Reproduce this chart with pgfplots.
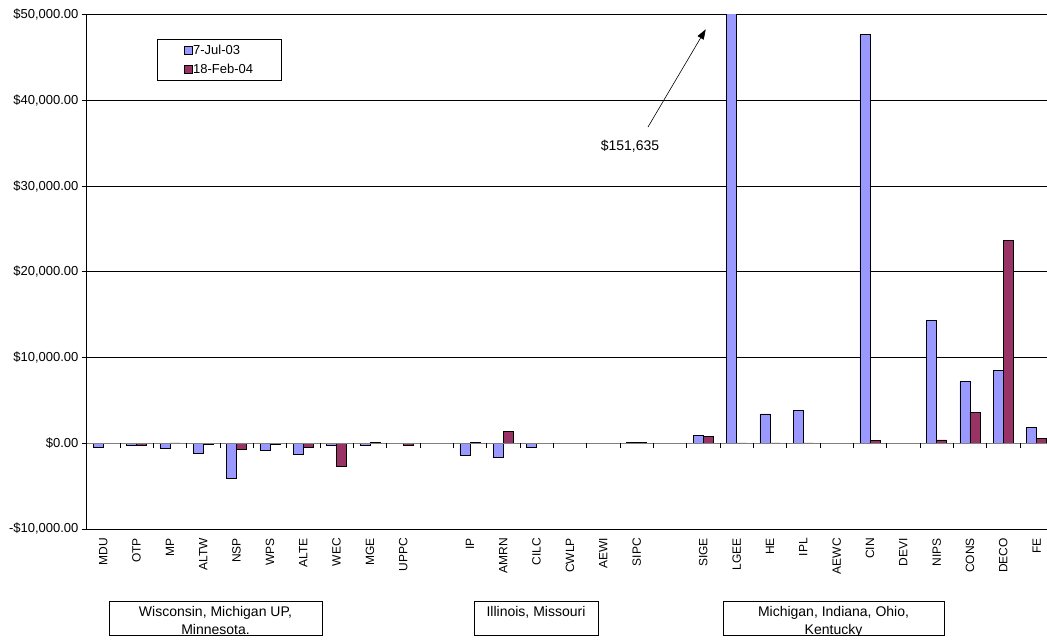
\documentclass[border=0pt]{standalone}
\usepackage{fontspec}
\setmainfont{Liberation Sans}
\usepackage{pgfplots}
\pgfplotsset{compat=1.18}
\usetikzlibrary{arrows.meta}
\definecolor{julblue}{HTML}{9999FF}
\definecolor{febplum}{HTML}{993366}
\definecolor{axisgray}{HTML}{808080}

\begin{document}
\begin{tikzpicture}[x=1pt,y=1pt]
\useasboundingbox (0,0) rectangle (1047,641);
\begin{axis}[
  at={(86.6pt,112.1pt)}, anchor=south west,
  scale only axis, width=966.7pt, height=514.2pt,
  xmin=-0.5, xmax=28.5, ymin=-10000, ymax=50000,
  axis lines*=left,
  axis line style={black, line width=0.8pt},
  ytick={-10000,0,...,50000},
  yticklabels={{-\$10,000.00}, {\$0.00}, {\$10,000.00}, {\$20,000.00}, {\$30,000.00}, {\$40,000.00}, {\$50,000.00}},
  ymajorgrids, major grid style={black, line width=0.8pt},
  tick align=outside, major tick length=5pt,
  ytick style={black, line width=0.8pt},
  xtick style={draw=none},
  xtick={0,1,2,3,4,5,6,7,8,9,11,12,13,14,15,16,18,19,20,21,22,23,24,25,26,27,28},
  xticklabels={MDU,OTP,MP,ALTW,NSP,WPS,ALTE,WEC,MGE,UPPC,IP,AMRN,CILC,CWLP,AEWI,SIPC,SIGE,LGEE,HE,IPL,AEWC,CIN,DEVI,NIPS,CONS,DECO,FE},
  % shifts act in the rotated frame: xshift moves the label down the page
  xticklabel style={rotate=90, anchor=east, inner sep=0pt, xshift=-4pt, font=\fontsize{12}{14}\selectfont},
  yticklabel style={inner sep=0pt, xshift=-3pt, font=\fontsize{13}{15}\selectfont},
  legend style={at={(0.0728,0.9527)}, anchor=north west, draw=black, line width=0.8pt,
    fill=white, font=\fontsize{13}{15}\selectfont, inner xsep=27pt, inner ysep=4.5pt,
    row sep=6pt, nodes={inner sep=1pt}},
  legend cell align=left,
]
% 7 July 2003
\addplot[ybar, bar width=0.3, bar shift=-0.15, fill=julblue, draw=black, line width=0.7pt,
  legend image code/.code={\draw[fill=julblue,draw=black,line width=0.6pt] (0pt,-3.6pt) rectangle (7.2pt,3.6pt);}]
  coordinates {
  (0,-470) (1,-230) (2,-620) (3,-1130) (4,-4080) (5,-780) (6,-1280) (7,-270) (8,-270)
  (11,-1400) (12,-1630) (13,-470) (14,-60) (16,80)
  (18,930) (19,151635) (20,3420) (21,3850) (23,47670) (25,14290) (26,7170) (27,8530) (28,1820)
  };
\addlegendentry{7-Jul-03}
% 18 February 2004
\addplot[ybar, bar width=0.3, bar shift=0.15, fill=febplum, draw=black, line width=0.7pt,
  legend image code/.code={\draw[fill=febplum,draw=black,line width=0.6pt] (0pt,-3.6pt) rectangle (7.2pt,3.6pt);}]
  coordinates {
  (0,-40) (1,-270) (2,30) (3,-150) (4,-700) (5,-150) (6,-470) (7,-2720) (8,50) (9,-230)
  (11,50) (12,1400) (14,-60) (16,80)
  (18,820) (19,40) (20,40) (21,40) (23,310) (25,390) (26,3610) (27,23710) (28,540)
  };
\addlegendentry{18-Feb-04}
% category axis at zero with tick marks between categories
\draw[axisgray, line width=1pt] (axis cs:-0.5,0) -- (axis cs:28.5,0);
\pgfplotsinvokeforeach{0.5,1.5,2.5,3.5,4.5,5.5,6.5,7.5,8.5,9.5,10.5,11.5,12.5,13.5,14.5,15.5,16.5,17.5,18.5,19.5,20.5,21.5,22.5,23.5,24.5,25.5,26.5,27.5}{
  \draw[black, line width=0.8pt] (axis cs:#1,0) -- ++(0pt,-4.5pt);
}
\end{axis}

% callout for the off-scale bar
\draw[black, line width=0.6pt, -{Triangle[length=10pt,width=7pt]}] (648,514) -- (705.7,611.7);
\node[font=\fontsize{14}{16}\selectfont, inner sep=0pt] at (630,495) {\$151,635};

% region boxes, text clipped to each frame
\tikzset{region/.style={font=\fontsize{14}{16}\selectfont, anchor=base, inner sep=0pt}}
\begin{scope}
  \clip (109,6) rectangle (322,40);
  \node[region] at (215.5,25) {Wisconsin, Michigan UP,};
  \node[region] at (215.5,6.5) {Minnesota.};
\end{scope}
\draw[black, line width=0.8pt] (109,6) rectangle (322,40);
\begin{scope}
  \clip (474,6) rectangle (598,40);
  \node[region] at (536,25) {Illinois, Missouri};
\end{scope}
\draw[black, line width=0.8pt] (474,6) rectangle (598,40);
\begin{scope}
  \clip (723,6) rectangle (944,40);
  \node[region] at (833.5,25) {Michigan, Indiana, Ohio,};
  \node[region] at (833.5,6.5) {Kentucky};
\end{scope}
\draw[black, line width=0.8pt] (723,6) rectangle (944,40);
\end{tikzpicture}
\end{document}
